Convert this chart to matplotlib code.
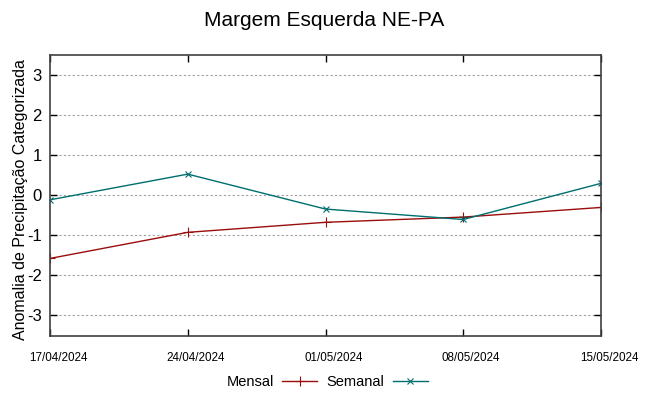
import matplotlib
matplotlib.use("Agg")
import matplotlib.pyplot as plt
import matplotlib.transforms as mtransforms
from matplotlib.lines import Line2D

plt.rcParams['font.family'] = ['Liberation Sans', 'DejaVu Sans']

dates = ["17/04/2024", "24/04/2024", "01/05/2024", "08/05/2024", "15/05/2024"]
mensal = [-1.58, -0.93, -0.68, -0.55, -0.31]
semanal = [-0.12, 0.52, -0.35, -0.61, 0.29]
yticks = [-3, -2, -1, 0, 1, 2, 3]

fig = plt.figure(figsize=(6.49, 3.96), dpi=100)
ax = fig.add_axes([50/649, 1-335.5/396, 551/649, 281/396])

x = list(range(len(dates)))
c_m = '#9b0d0d'
c_s = '#006e6e'
ax.plot(x, mensal, color=c_m, lw=1.0, marker='+', ms=7, mew=0.8, label='Mensal')
ax.plot(x, semanal, color=c_s, lw=1.0, marker='x', ms=5, mew=0.8, label='Semanal')

ax.set_xlim(0, len(dates)-1)
ax.set_ylim(-3.5, 3.5)
ax.set_xticks(x)
ax.set_xticklabels(dates, fontsize=8.4)
ax.set_yticks(yticks)
ax.set_yticklabels([str(v) for v in yticks], fontsize=12)
ax.tick_params(axis='both', direction='in', top=True, right=True, length=5, width=1, color='black')
ax.tick_params(axis='x', pad=12)
ax.tick_params(axis='y', pad=6)
offset = mtransforms.ScaledTranslation(8/100, 0, fig.dpi_scale_trans)
for lbl in ax.get_xticklabels():
    lbl.set_transform(lbl.get_transform() + offset)
for y in yticks:
    ax.axhline(y, color='#a0a0a0', lw=0.8, ls=(0, (2, 2)), zorder=0)
for s in ax.spines.values():
    s.set_color('#404040')
    s.set_linewidth(1.2)

ax.set_ylabel('Anomalia de Precipitação Categorizada', fontsize=11.5)
ax.yaxis.set_label_coords((28 - 50) / 551, (335.5 - 200) / 281)
fig.suptitle('Margem Esquerda NE-PA', fontsize=15, y=0.972)

handles = [Line2D([], [], color=c_m, lw=1.0, marker='+', ms=7, markevery=[1], mew=0.8),
           Line2D([], [], color=c_s, lw=1.0, marker='x', ms=5, markevery=[1], mew=0.8)]
fig.legend(handles, ['Mensal', 'Semanal'], loc='center', bbox_to_anchor=(327/649, 1-382/396),
           ncol=2, frameon=False, markerfirst=False, fontsize=10.5, handlelength=2.4,
           columnspacing=0.6, handletextpad=0.6)

fig.savefig('out.png', dpi=100)
